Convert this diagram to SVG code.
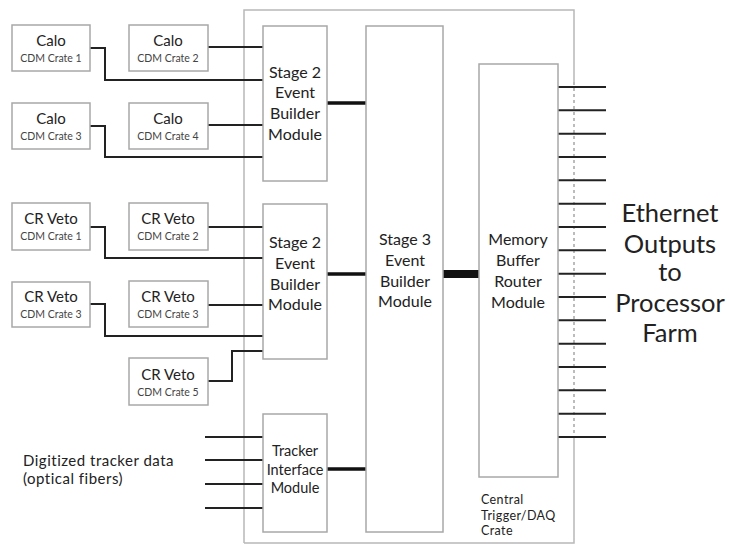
<svg xmlns="http://www.w3.org/2000/svg" width="729" height="546" viewBox="0 0 729 546">
<style>
.box{fill:#fff;stroke:#a8a8a8;stroke-width:1.5}
.crate{fill:#fff;stroke:#b8b8b8;stroke-width:1.5}
.w{fill:none;stroke:#222;stroke-width:2}
.thick{fill:none;stroke:#111;stroke-width:3.5}
text{font-family:Lato,"Open Sans","Liberation Sans",sans-serif;fill:#222}
.big{font-size:15px;text-anchor:middle}
.small{font-size:10.5px;text-anchor:middle;fill:#444}
.mod{font-size:16px;text-anchor:middle}
.trk{font-size:14.5px;text-anchor:middle}
.eth{font-size:25.5px;text-anchor:middle}
.lbl{font-size:12.5px;letter-spacing:0.4px}
.dig{font-size:15px;letter-spacing:0.5px}
</style>
<rect width="729" height="546" fill="#fff"/>
<g id="crate">
<path d="M244,543 V10 H574 V82" class="crate" fill="none"/>
<path d="M574,82 V438" fill="none" stroke="#999" stroke-width="1.3" stroke-dasharray="3,3"/>
<path d="M574,438 V543 H244" fill="none" stroke="#b8b8b8" stroke-width="1.5"/>
<text class="lbl" x="481" y="504">Central</text>
<text class="lbl" x="481" y="519.5">Trigger/DAQ</text>
<text class="lbl" x="481" y="535">Crate</text>
</g>
<g id="connectors">
<path class="w" d="M90,48 H105 V80 H263"/>
<path class="w" d="M208,47 H263"/>
<path class="w" d="M90,126 H105 V157 H263"/>
<path class="w" d="M208,125 H263"/>
<path class="w" d="M90,227 H105 V258 H263"/>
<path class="w" d="M208,227 H263"/>
<path class="w" d="M90,304 H105 V336 H263"/>
<path class="w" d="M208,305 H263"/>
<path class="w" d="M208,381 H232 V351 H263"/>
<path class="w" d="M205,437 H263 M205,460 H263 M205,484 H263 M205,508 H263"/>
<path class="thick" d="M327,103 H366 M327,274 H366 M327,469 H366"/>
<path d="M443,274 H479" stroke="#111" stroke-width="8" fill="none"/>
<path class="w" d="M558,87 H606 M558,110.3 H606 M558,133.7 H606 M558,157 H606 M558,180.3 H606 M558,203.7 H606 M558,227 H606 M558,250.3 H606 M558,273.7 H606 M558,297 H606 M558,320.3 H606 M558,343.7 H606 M558,367 H606 M558,390.3 H606 M558,413.7 H606 M558,437 H606"/>
</g>
<g id="calo1"><rect class="box" x="12" y="25" width="78" height="46"/><text class="big" x="51" y="46">Calo</text><text class="small" x="51" y="62">CDM Crate 1</text></g>
<g id="calo2"><rect class="box" x="129" y="25" width="79" height="46"/><text class="big" x="168" y="46">Calo</text><text class="small" x="168" y="62">CDM Crate 2</text></g>
<g id="calo3"><rect class="box" x="12" y="103" width="78" height="46"/><text class="big" x="51" y="124">Calo</text><text class="small" x="51" y="140">CDM Crate 3</text></g>
<g id="calo4"><rect class="box" x="129" y="103" width="79" height="46"/><text class="big" x="168" y="124">Calo</text><text class="small" x="168" y="140">CDM Crate 4</text></g>
<g id="crveto1"><rect class="box" x="12" y="203" width="78" height="47"/><text class="big" x="51" y="224">CR Veto</text><text class="small" x="51" y="240">CDM Crate 1</text></g>
<g id="crveto2"><rect class="box" x="129" y="203" width="79" height="47"/><text class="big" x="168" y="224">CR Veto</text><text class="small" x="168" y="240">CDM Crate 2</text></g>
<g id="crveto3a"><rect class="box" x="12" y="282" width="78" height="45"/><text class="big" x="51" y="302">CR Veto</text><text class="small" x="51" y="318">CDM Crate 3</text></g>
<g id="crveto3b"><rect class="box" x="129" y="281" width="79" height="46"/><text class="big" x="168" y="302">CR Veto</text><text class="small" x="168" y="318">CDM Crate 3</text></g>
<g id="crveto5"><rect class="box" x="129" y="358" width="79" height="47"/><text class="big" x="168" y="380">CR Veto</text><text class="small" x="168" y="396">CDM Crate 5</text></g>
<g id="stage2a"><rect class="box" x="263" y="26" width="64" height="155"/>
<text class="mod" x="295" y="78">Stage 2</text><text class="mod" x="295" y="98">Event</text><text class="mod" x="295" y="119">Builder</text><text class="mod" x="295" y="140">Module</text></g>
<g id="stage2b"><rect class="box" x="263" y="204" width="64" height="155"/>
<text class="mod" x="295" y="248">Stage 2</text><text class="mod" x="295" y="269">Event</text><text class="mod" x="295" y="290">Builder</text><text class="mod" x="295" y="310">Module</text></g>
<g id="tracker"><rect class="box" x="263" y="414" width="64" height="118"/>
<text class="trk" x="295" y="456">Tracker</text><text class="trk" x="295" y="475">Interface</text><text class="trk" x="295" y="493">Module</text></g>
<g id="stage3"><rect class="box" x="366" y="26" width="77" height="506"/>
<text class="mod" x="405" y="245">Stage 3</text><text class="mod" x="405" y="266">Event</text><text class="mod" x="405" y="287">Builder</text><text class="mod" x="405" y="307">Module</text></g>
<g id="memory"><rect class="box" x="479" y="64" width="79" height="413"/>
<text class="mod" x="518" y="245">Memory</text><text class="mod" x="518" y="266">Buffer</text><text class="mod" x="518" y="287">Router</text><text class="mod" x="518" y="308">Module</text></g>
<g id="ethernet">
<text class="eth" x="670" y="222">Ethernet</text><text class="eth" x="670" y="253">Outputs</text><text class="eth" x="670" y="281">to</text><text class="eth" x="670" y="312">Processor</text><text class="eth" x="670" y="342">Farm</text>
</g>
<g id="tracker-label">
<text class="dig" x="23" y="466">Digitized tracker data</text>
<text class="dig" x="23" y="484">(optical fibers)</text>
</g>
</svg>
